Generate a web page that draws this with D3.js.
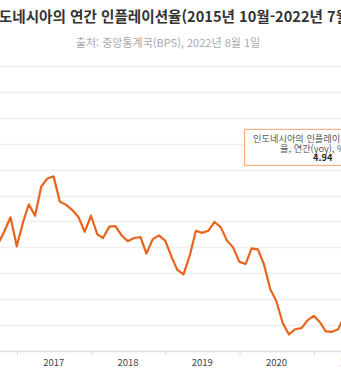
<!DOCTYPE html>
<html lang="ko">
<head>
<meta charset="utf-8">
<script src="https://cdn.jsdelivr.net/npm/d3@7/dist/d3.min.js"></script>
<style>
  html, body { margin: 0; padding: 0; background: #fff; overflow: hidden; }
  svg { display: block; }
  text { font-family: "Noto Sans CJK KR", "Noto Sans", sans-serif; }
</style>
</head>
<body>
<div id="chart"></div>
<script>
// Indonesia annual inflation (yoy, %), monthly, Oct 2015 – Jul 2022
const months = [
  "2015-10","2015-11","2015-12",
  "2016-01","2016-02","2016-03","2016-04","2016-05","2016-06","2016-07","2016-08","2016-09","2016-10","2016-11","2016-12",
  "2017-01","2017-02","2017-03","2017-04","2017-05","2017-06","2017-07","2017-08","2017-09","2017-10","2017-11","2017-12",
  "2018-01","2018-02","2018-03","2018-04","2018-05","2018-06","2018-07","2018-08","2018-09","2018-10","2018-11","2018-12",
  "2019-01","2019-02","2019-03","2019-04","2019-05","2019-06","2019-07","2019-08","2019-09","2019-10","2019-11","2019-12",
  "2020-01","2020-02","2020-03","2020-04","2020-05","2020-06","2020-07","2020-08","2020-09","2020-10","2020-11","2020-12",
  "2021-01","2021-02","2021-03","2021-04","2021-05","2021-06","2021-07","2021-08","2021-09","2021-10","2021-11","2021-12",
  "2022-01","2022-02","2022-03","2022-04","2022-05","2022-06","2022-07"
];
const inflation = [
  6.25, 4.89, 3.35,
  4.14, 4.42, 4.45, 3.60, 3.33, 3.45, 3.21, 2.79, 3.07, 3.31, 3.58, 3.02,
  3.49, 3.83, 3.61, 4.17, 4.33, 4.37, 3.88, 3.82, 3.72, 3.58, 3.30, 3.61,
  3.25, 3.18, 3.40, 3.41, 3.23, 3.12, 3.18, 3.20, 2.88, 3.16, 3.23, 3.13,
  2.82, 2.57, 2.48, 2.83, 3.32, 3.28, 3.32, 3.49, 3.39, 3.13, 3.00, 2.72,
  2.68, 2.98, 2.96, 2.67, 2.19, 1.96, 1.54, 1.32, 1.42, 1.44, 1.59, 1.68,
  1.55, 1.38, 1.37, 1.42, 1.68, 1.33, 1.52, 1.59, 1.60, 1.66, 1.75, 1.87,
  2.18, 2.06, 2.64, 3.47, 3.55, 4.35, 4.94
];
const yTicks = [1, 1.5, 2, 2.5, 3, 3.5, 4, 4.5, 5, 5.5, 6, 6.5];
const yearLabels = ["2016", "2017", "2018", "2019", "2020", "2021", "2022"];

const titleText = "인도네시아의 연간 인플레이션율(2015년 10월-2022년 7월)";
const sourceText = "출처: 중앙통계국(BPS), 2022년 8월 1일";
const tooltipLines = ["인도네시아의 인플레이션", "율, 연간(yoy), %"];

const W = 341, H = 392;
const lineColor = "#e8641c";

// each observation sits at the end of its month
const parse = s => { const [y, m] = s.split("-").map(Number); return new Date(y, m, 0); };
const data = months.map((m, i) => ({ date: parse(m), value: inflation[i] }));

const svg = d3.select("#chart").append("svg")
  .attr("width", W).attr("height", H);

const x = d3.scaleTime()
  .domain([new Date(2017, 0, 1), new Date(2021, 0, 1)])
  .range([17, 314]);
const y = d3.scaleLinear().domain([1, 6.5]).range([351, 66]);

const plotLeft = x(new Date(2015, 9, 1)) - 10;
const plotRight = x(new Date(2022, 7, 1)) + 10;

// title and source
const titleSize = 14.6;
svg.append("text")
  .attr("x", -titleSize).attr("y", 22)
  .attr("font-size", titleSize).attr("font-weight", 700)
  .attr("fill", "#333")
  .text(titleText);
svg.append("text")
  .attr("x", 168).attr("y", 47)
  .attr("text-anchor", "middle")
  .attr("font-size", 11)
  .attr("fill", "#a8a8a8")
  .text(sourceText);

// horizontal grid
svg.append("g")
  .selectAll("line")
  .data(yTicks.filter(t => t > 1))
  .join("line")
  .attr("x1", plotLeft).attr("x2", plotRight)
  .attr("y1", d => Math.round(y(d)) + 0.5)
  .attr("y2", d => Math.round(y(d)) + 0.5)
  .attr("stroke", "#efefef").attr("stroke-width", 1.5);

// x axis with year-boundary ticks, labels centred within each year
const yearStarts = d3.range(2016, 2023).map(yr => new Date(yr, 0, 1));
const xAxis = d3.axisBottom(x)
  .tickValues(yearStarts)
  .tickSize(4)
  .tickFormat("");
const gx = svg.append("g")
  .attr("transform", `translate(0,${Math.round(y(1)) + 0.5})`)
  .call(xAxis);
gx.select(".domain").remove();
gx.selectAll(".tick line").attr("stroke", "#d8d8d8");
svg.append("line")
  .attr("x1", plotLeft).attr("x2", plotRight)
  .attr("y1", Math.round(y(1)) + 0.5).attr("y2", Math.round(y(1)) + 0.5)
  .attr("stroke", "#e2e2e2").attr("stroke-width", 1.5);

svg.append("g")
  .selectAll("text")
  .data(yearLabels)
  .join("text")
  .attr("x", d => x(new Date(+d, 6, 1)))
  .attr("y", 366)
  .attr("text-anchor", "middle")
  .attr("font-family", "'DejaVu Sans', Verdana, sans-serif")
  .attr("font-size", 9.5)
  .attr("fill", "#444")
  .text(d => d);

// inflation line
const line = d3.line()
  .x(d => x(d.date))
  .y(d => y(d.value));
svg.append("path")
  .datum(data)
  .attr("d", line)
  .attr("fill", "none")
  .attr("stroke", lineColor)
  .attr("stroke-width", 2.2)
  .attr("stroke-linejoin", "round");

// hover tooltip for the latest observation
const last = data[data.length - 1];
const tipX = x(last.date) - 187;
const tipY = y(last.value) - 18;
const tip = svg.append("g").attr("transform", `translate(${tipX},${tipY})`);
tip.append("rect")
  .attr("x", 0.5).attr("y", 0.5)
  .attr("width", 180).attr("height", 36)
  .attr("fill", "rgba(255,255,255,0.95)")
  .attr("stroke", "#f2a273").attr("stroke-width", 1);
tip.selectAll("text.l")
  .data(tooltipLines)
  .join("text")
  .attr("class", "l")
  .attr("x", (d, i) => i === 0 ? 9 : 36)
  .attr("y", (d, i) => 13.5 + i * 9.5)
  .attr("font-size", 9.2)
  .attr("fill", "#555")
  .text(d => d);
tip.append("text")
  .attr("x", 69).attr("y", 32)
  .attr("font-family", "'DejaVu Sans', Verdana, sans-serif")
  .attr("font-size", 9.2)
  .attr("font-weight", 700)
  .attr("fill", "#222")
  .text(d3.format(".2f")(last.value));
</script>
</body>
</html>
